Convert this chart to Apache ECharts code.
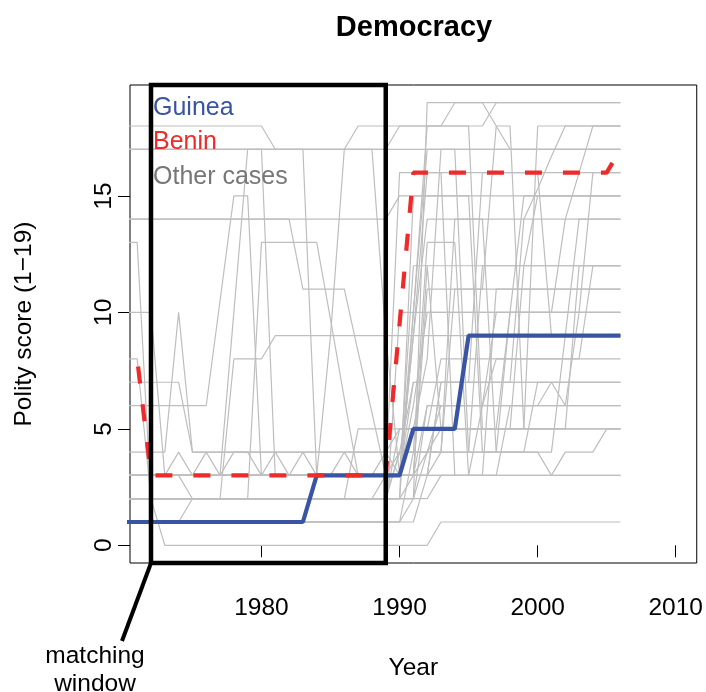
<!DOCTYPE html>
<html><head><meta charset="utf-8">
<script src="https://cdn.jsdelivr.net/npm/echarts@6/dist/echarts.min.js"></script>
<style>html,body{margin:0;padding:0;background:#fff}#c{width:706px;height:692px}</style>
</head><body><div id="c"></div>
<script>
const years = [1970,1971,1972,1973,1974,1975,1976,1977,1978,1979,1980,1981,1982,1983,1984,1985,1986,1987,1988,1989,1990,1991,1992,1993,1994,1995,1996,1997,1998,1999,2000,2001,2002,2003,2004,2005,2006];
const guinea = [1,1,1,1,1,1,1,1,1,1, 1,1,1,1,3,3,3,3,3,3, 3,5,5,5,5,9,9,9,9,9, 9,9,9,9,9,9,9];
const benin  = [null,8,3,3,3,3,3,3,3,3, 3,3,3,3,3,3,3,3,3,3, 9.5,16,16,16,16,16,16,16,16,16, 16,16,16,16,16,16,17];

const other01 = [17,17,17,17,17,17,17,17,17,17, 17,17,17,17,17,17,17,17,17,17, 17,17,17,17,17,17,17,17,17,17, 17,17,17,17,17,17,17];
const other02 = [18,18,18,18,18,18,18,18,18,18, 18,17,17,17,17,17,17,18,18,18, 18,18,18,18,18,18,18,19,19,19, 19,19,19,19,19,19,19];
const other03 = [2,2,2,2,2,2,2,2,2,2, 2,2,2,2,2,2,2,2,2,2, 2,2,19,19,19,19,19,18,17,17, 17,17,17,17,17,17,17];
const other04 = [17,17,17,17,17,17,17,17,17,17, 17,17,17,17,17,17,17,17,17,17, 18,18,18,18,19,19,19,19,19,19, 19,19,19,19,19,19,19];
const other05 = [14,14,14,14,14,14,14,14,14,14, 14,14,14,14,14,14,14,14,14,14, 15,15,15,15,15,15,15,15,15,15, 15,15,15,15,15,15,15];
const other06 = [13,13,2,2,2,2,2,2,2,2, 2,2,2,2,2,2,2,2,2,3, 16,16,16,16,16,16,16,16,16,16, 16,16,16,16,16,16,16];
const other07 = [2,2,2,0,0,0,0,0,0,0, 0,0,0,0,0,0,0,0,0,0, 0,0,0,1,1,1,1,1,1,1, 1,1,1,1,1,1,1];
const other08 = [6,6,6,6,6,6,6,10.5,15,15, 3,3,3,3,3,3,3,3,3,3, 3,9,14,14,14,14,14,14,14,14, 14,14,14,14,14,14,14];
const other09 = [4,4,4,4,10,4,4,4,4,4, 4,4,4,4,4,4,4,4,4,4, 4,4,4,4,4,4,4,4,4,4, 4,3,4,4,4,5,5];
const other10 = [2,2,2,2,2,2,2,2,2,2, 13,13,13,13,13,9.7,6.3,3,3,3, 3,3,11,11,11,11,11,11,11,11, 11,11,11,11,11,11,11];
const other11 = [14,14,14,14,14,14,14,14,14,14, 14,14,14,11,11,11,11,8.3,5.7,3, 3,3,3,7,7,7,7,7,7,7, 7,7,7,7,7,7,7];
const other12 = [3,3,3,3,3,3,3,3,10,17, 17,17,17,17,3,3,3,3,3,3, 3,12,12,12,12,12,12,12,12,12, 12,12,12,12,12,12,12];
const other13 = [3,3,3,3,3,3,3,3,3,3, 3,3,3,3,3,9,17,17,17,9, 3,3,4,5,5,5,5,5,10,15, 15,15,15,15,15,15,15];
const other14 = [7,7,7,7,7,4,4,4,4,4, 4,4,4,4,4,4,4,4,4,4, 5,5,5,8,8,8,8,8,8,8, 8,8,8,8,8,8,8];
const other15 = [8,8,2,2,2,2,2,2,8,8, 8,9,9,9,9,9,9,9,9,9, 9,9,9,9,9,9,9,9,9,9, 9,9,9,9,9,9,9];
const other16 = [1,1,1,1,1,2,2,2,2,2, 2,2,2,2,2,2,2,5,5,5, 5,5,5,5,5,5,5,5,5,5, 5,5,5,5,5,5,5];
const other17 = [3,3,3,3,3,3,3,3,3,3, 3,3,3,3,3,3,3,3,3,3, 3,3,3,3,3,3,3,3,3,3, 3,3,3,3,3,3,3];
const other18 = [1,1,1,1,1,1,1,1,1,1, 1,1,1,1,1,1,1,1,1,1, 1,2,6,6,6,6,6,6,6,6, 6,6,6,6,6,6,6];
const other19 = [3,3,3,3,3,2,2,2,2,2, 2,2,2,2,2,2,2,2,2,2, 2,2,2,3,3,3,3,3,3,3, 3,3,3,3,3,3,3];
const other20 = [2,2,2,2,2,2,2,2,2,2, 2,2,2,2,2,2,2,2,2,2, 5,5,5,5,5,5,5,5,5,5, 18,18,18,18,18,18,18];
const other21 = [3,3,3,3,3,3,3,3,3,3, 3,3,3,3,3,3,3,3,3,3, 3,7,7,7,7,7,7,7,7,14, 15.3,16.7,18,18,18,18,18];
const other22 = [1,1,1,1,1,1,1,1,1,1, 1,1,1,1,1,1,1,1,1,1, 10,10,10,10,10,10,10,10,10,10, 10,10,14,16,18,18,18];
const other23 = [1,1,1,1,1,1,1,1,1,1, 1,1,1,1,1,1,1,1,1,1, 1,4,4,4,4,4,12,12,12,12, 12,12,12,12,12,12,12];
const other24 = [2,2,2,2,2,2,2,2,2,2, 2,2,2,2,2,2,2,2,2,2, 4,4,4,6,6,6,6,6,6,6, 6,7,7,7,7,7,7];
const other25 = [3,3,3,3,3,3,3,3,3,3, 3,3,3,3,3,3,3,3,3,3, 4,7,7,7,7,7,7,7,7,7, 7,7,6,6,6,6,6];
const other26 = [2,2,2,2,2,2,2,2,2,2, 2,2,2,2,2,2,2,2,2,2, 2,10,18,18,18,18,5,5,5,5, 5,5,5,5,5,5,5];
const other27 = [3,3,3,3,3,3,3,3,3,3, 3,3,3,3,3,3,3,3,3,3, 3,9,16,16,3,3,3,11,11,11, 11,11,11,11,11,11,11];
const other28 = [2,2,2,2,2,2,2,2,2,2, 2,2,2,2,2,2,2,2,2,2, 2,15,15,15,15,15,4,4,10,10, 10,10,10,10,10,10,10];
const other29 = [3,3,3,3,3,3,3,3,3,3, 3,3,3,3,3,3,3,3,3,3, 3,3,12,5,5,5,5,5,5,12, 15,15,15,15,15,15,15];
const other30 = [2,2,2,2,2,2,2,2,2,2, 2,2,2,2,2,2,2,2,2,2, 2,2,4,4,14,14,14,4,4,4, 7,7,7,7,7,7,7];
const other31 = [17,17,17,17,17,17,17,17,17,17, 17,3,3,3,3,3,3,3,3,3, 3,10,17,17,17,17,17,17,17,17, 17,17,17,17,17,17,17];
const other32 = [3,3,3,3,4,3,4,3,4,4, 3,4,3,4,3,3,4,3,3,4, 3,6,10,10,10,10,10,10,10,10, 10,10,10,10,10,10,10];
const other33 = [3,3,3,3,3,3,3,3,3,3, 3,3,3,3,3,3,3,3,3,3, 3,5,8,17,17,4,4,4,4,4, 4,4,9,14,14,14,14];
const other34 = [2,2,2,2,2,2,2,2,2,2, 2,2,2,2,2,2,2,2,2,2, 2,3,3,4,11,11,11,18,18,5, 5,5,5,12,12,12,12];
const other35 = [1,1,1,1,1,1,1,1,1,1, 1,1,1,1,1,1,1,1,1,1, 1,1,3,7,7,7,16,16,16,16, 16,9,9,9,9,9,9];
const other36 = [2,2,2,2,2,2,2,2,2,2, 2,2,2,2,2,2,2,2,2,2, 4,4,13,13,13,3,3,3,6,6, 6,6,6,10,16,16,16];
const other37 = [3,3,3,3,3,3,3,3,3,3, 3,3,3,3,3,3,3,3,3,3, 3,3,3,3,3,3,6,8,8,8, 8,8,8,8,12,12,12];
const other38 = [10,10,10,3,3,3,3,3,3,3, 3,3,3,3,3,3,3,3,3,3, 3,3,6,6,6,6,6,10,10,10, 10,10,10,10,10,10,10];
const otherCases = [other01,other02,other03,other04,other05,other06,other07,other08,other09,other10,other11,other12,other13,other14,other15,other16,other17,other18,other19,other20,other21,other22,other23,other24,other25,other26,other27,other28,other29,other30,other31,other32,other33,other34,other35,other36,other37,other38];

const xTicks = [1980, 1990, 2000, 2010];
const yTicks = [0, 5, 10, 15];
const matchingWindow = [1972, 1989];
const xRange = [1970.48, 2011.52];
const yRange = [-0.76, 19.76];

const BLUE = '#3A54A4', RED = '#EE2A2A', GRAY = '#BEBEBE';
const FONT = 'Liberation Sans, Arial, Helvetica, sans-serif';
const FS = 24.5;

function pairs(vals) {
  const out = [];
  vals.forEach((v, i) => { if (v !== null) out.push([years[i], v]); });
  return out;
}

const series = [];
otherCases.forEach(arr => {
  series.push({
    name: 'Other cases', type: 'line', data: pairs(arr), symbol: 'none',
    lineStyle: { color: GRAY, width: 1.2 }, itemStyle: { color: GRAY },
    z: 2, clip: true, silent: true
  });
});
series.push({
  name: 'Guinea', type: 'line', data: pairs(guinea), symbol: 'none',
  lineStyle: { color: BLUE, width: 4.2 }, itemStyle: { color: BLUE }, z: 3, clip: true
});
series.push({
  name: 'Benin', type: 'line', data: pairs(benin), symbol: 'none',
  lineStyle: { color: RED, width: 4.2, type: [17, 21], dashOffset: 30.3 }, itemStyle: { color: RED }, z: 4, clip: true
});
series.push({
  name: 'window', type: 'line', symbol: 'none', clip: false, silent: true,
  data: [[matchingWindow[0], yRange[0]], [matchingWindow[0], yRange[1]], [matchingWindow[1], yRange[1]], [matchingWindow[1], yRange[0]], [matchingWindow[0], yRange[0]]],
  lineStyle: { color: '#000', width: 4.5, join: 'miter' }, z: 5
});

const chart = echarts.init(document.getElementById('c'), null, { renderer: 'canvas' });
chart.setOption({
  animation: false,
  backgroundColor: '#fff',
  title: {
    text: 'Democracy', left: 409, top: 8, textAlign: 'center',
    textStyle: { fontFamily: FONT, fontWeight: 'bold', fontSize: 29, color: '#000' }
  },
  legend: {
    orient: 'vertical', left: 143, top: 90, icon: 'none', itemWidth: 0, itemHeight: 10, itemGap: 8.5,
    selectedMode: false,
    textStyle: { fontFamily: FONT, fontSize: 25, lineHeight: 26 },
    data: [
      { name: 'Guinea', textStyle: { color: BLUE } },
      { name: 'Benin', textStyle: { color: RED } },
      { name: 'Other cases', textStyle: { color: '#777777' } }
    ]
  },
  grid: { left: 130, top: 85, width: 568, height: 478, show: true, borderColor: '#000', borderWidth: 1, containLabel: false },
  xAxis: {
    type: 'value', min: xRange[0], max: xRange[1],
    name: 'Year', nameLocation: 'middle', nameGap: 93,
    nameTextStyle: { fontFamily: FONT, fontSize: FS, color: '#000' },
    axisLine: { show: false },
    axisTick: { show: true, length: 12, customValues: xTicks, lineStyle: { color: '#000', width: 1 } },
    axisLabel: { customValues: xTicks, margin: 33, fontFamily: FONT, fontSize: FS, color: '#000', formatter: v => String(v) },
    splitLine: { show: false }
  },
  yAxis: {
    type: 'value', min: yRange[0], max: yRange[1],
    name: 'Polity score (1\u221219)', nameLocation: 'middle', nameGap: 93,
    nameTextStyle: { fontFamily: FONT, fontSize: FS, color: '#000' },
    axisLine: { show: false },
    axisTick: { show: true, length: 12, customValues: yTicks, lineStyle: { color: '#000', width: 1 } },
    axisLabel: { customValues: yTicks, rotate: 90, margin: 13, fontFamily: FONT, fontSize: FS, color: '#000', formatter: v => String(v) },
    splitLine: { show: false }
  },
  series: series
});

const p0 = chart.convertToPixel({ gridIndex: 0 }, [matchingWindow[0], yRange[0]]);
chart.setOption({
  graphic: [
    { type: 'line', shape: { x1: p0[0], y1: p0[1], x2: p0[0] - 29, y2: p0[1] + 78 }, style: { stroke: '#000', lineWidth: 4 }, z: 10 },
    { type: 'text', x: 95, y: 656, style: { text: 'matching', fontFamily: FONT, fontSize: FS, fill: '#000', textAlign: 'center', textVerticalAlign: 'middle' } },
    { type: 'text', x: 95, y: 684, style: { text: 'window', fontFamily: FONT, fontSize: FS, fill: '#000', textAlign: 'center', textVerticalAlign: 'middle' } }
  ]
});
</script></body></html>
